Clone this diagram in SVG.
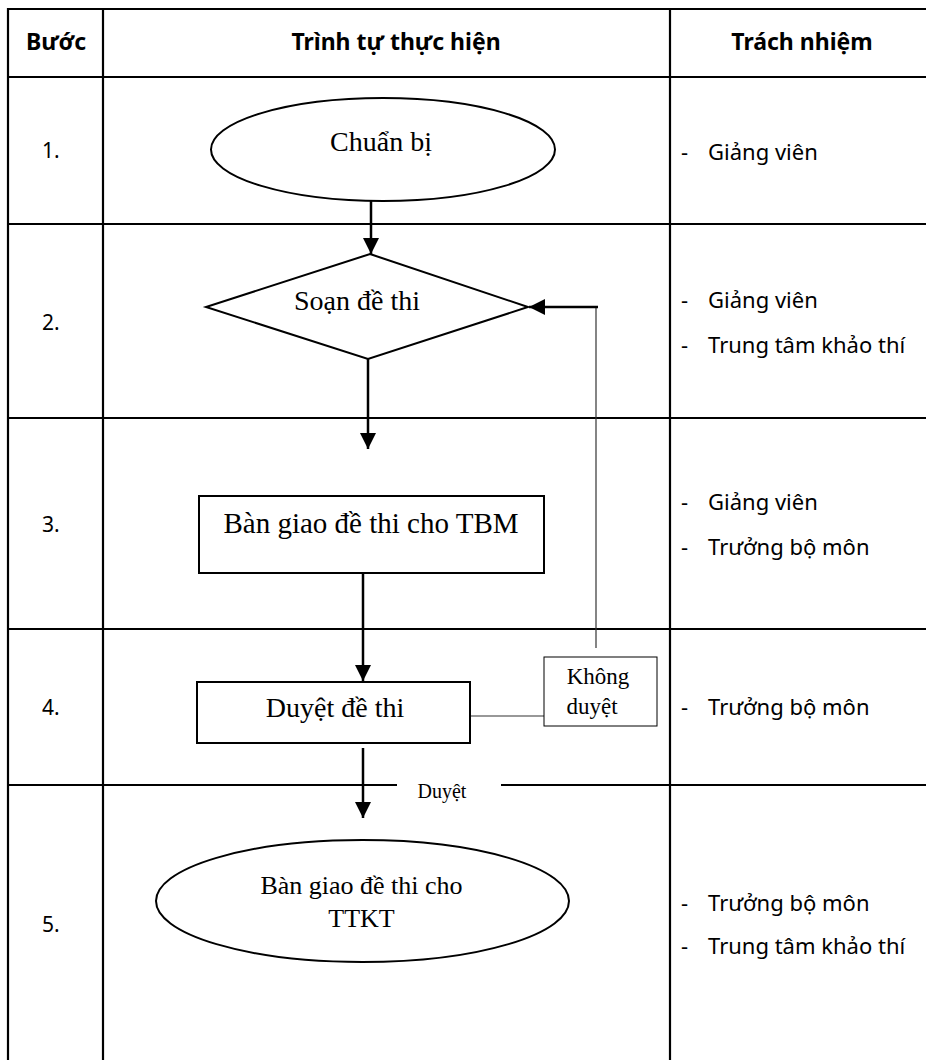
<svg xmlns="http://www.w3.org/2000/svg" width="926" height="1060" viewBox="0 0 926 1060">
<style>
.grid{stroke:#000;stroke-width:2.2;fill:none}
.shape{fill:#fff;stroke:#000;stroke-width:2}
.thin{fill:#fff;stroke:#000;stroke-width:1}
.flow{stroke:#000;stroke-width:2.5;fill:none}
.fb{stroke:#333;stroke-width:1.2;fill:none}
.hd{font-family:"Noto Sans","DejaVu Sans",sans-serif;font-weight:bold;font-size:23px;fill:#000;text-anchor:middle}
.tb{font-family:"Noto Sans","DejaVu Sans",sans-serif;font-size:22px;fill:#000}
.num{font-family:"Noto Sans","DejaVu Sans",sans-serif;font-size:21px;fill:#000}
.sr{font-family:"Liberation Serif","Times New Roman",serif;fill:#000;text-anchor:middle}
</style>
<defs>
<marker id="ah" markerUnits="userSpaceOnUse" viewBox="0 0 16 16" refX="16" refY="8" markerWidth="16" markerHeight="16" orient="auto">
<path d="M0,0 L16,8 L0,16 z" fill="#000"/>
</marker>
</defs>
<rect width="926" height="1060" fill="#fff"/>
<g id="table">
<line class="grid" x1="8" y1="9" x2="926" y2="9"/>
<line class="grid" x1="8" y1="77" x2="926" y2="77"/>
<line class="grid" x1="8" y1="224" x2="926" y2="224"/>
<line class="grid" x1="8" y1="418" x2="926" y2="418"/>
<line class="grid" x1="8" y1="629" x2="926" y2="629"/>
<line class="grid" x1="8" y1="785" x2="397" y2="785"/>
<line class="grid" x1="501" y1="785" x2="926" y2="785"/>
<line class="grid" x1="8" y1="8" x2="8" y2="1060"/>
<line class="grid" x1="103" y1="8" x2="103" y2="1060"/>
<line class="grid" x1="670" y1="8" x2="670" y2="1060"/>
<text class="hd" x="56" y="50">Bước</text>
<text class="hd" x="396" y="50">Trình tự thực hiện</text>
<text class="hd" x="802" y="50">Trách nhiệm</text>
<text class="num" x="42" y="158">1.</text>
<text class="num" x="42" y="330">2.</text>
<text class="num" x="42" y="532">3.</text>
<text class="num" x="42" y="715">4.</text>
<text class="num" x="42" y="932">5.</text>
<text class="tb" x="681" y="160">-</text><text class="tb" x="708" y="160">Giảng viên</text>
<text class="tb" x="681" y="308">-</text><text class="tb" x="708" y="308">Giảng viên</text>
<text class="tb" x="681" y="353">-</text><text class="tb" x="708" y="353">Trung tâm khảo thí</text>
<text class="tb" x="681" y="510">-</text><text class="tb" x="708" y="510">Giảng viên</text>
<text class="tb" x="681" y="555">-</text><text class="tb" x="708" y="555">Trưởng bộ môn</text>
<text class="tb" x="681" y="715">-</text><text class="tb" x="708" y="715">Trưởng bộ môn</text>
<text class="tb" x="681" y="911">-</text><text class="tb" x="708" y="911">Trưởng bộ môn</text>
<text class="tb" x="681" y="954">-</text><text class="tb" x="708" y="954">Trung tâm khảo thí</text>
</g>
<g id="connectors">
<line class="flow" x1="371" y1="201" x2="371" y2="254" marker-end="url(#ah)"/>
<line class="flow" x1="368" y1="359" x2="368" y2="449" marker-end="url(#ah)"/>
<line class="flow" x1="363" y1="573" x2="363" y2="681" marker-end="url(#ah)"/>
<line class="flow" x1="363" y1="748" x2="363" y2="818" marker-end="url(#ah)"/>
<line class="fb" x1="596" y1="648" x2="596" y2="307"/>
<line class="flow" x1="598" y1="307" x2="529" y2="307" marker-end="url(#ah)"/>
<line class="fb" x1="470" y1="716" x2="544" y2="716"/>
<text class="sr" x="442" y="798" font-size="20">Duyệt</text>
</g>
<g id="n1">
<ellipse class="shape" cx="383" cy="149.5" rx="172" ry="51.5"/>
<text class="sr" x="381" y="151" font-size="28">Chuẩn bị</text>
</g>
<g id="n2">
<polygon class="shape" points="370,254 528,307 368,359 206,307"/>
<text class="sr" x="357" y="310" font-size="28">Soạn đề thi</text>
</g>
<g id="n3">
<rect class="shape" x="199" y="496" width="345" height="77"/>
<text class="sr" x="371" y="533" font-size="29">Bàn giao đề thi cho TBM</text>
</g>
<g id="n4">
<rect class="shape" x="197" y="682" width="273" height="61"/>
<text class="sr" x="335" y="717" font-size="28">Duyệt đề thi</text>
</g>
<g id="n4b">
<rect class="thin" x="544" y="657" width="113" height="69"/>
<text class="sr" x="598" y="684" font-size="23">Không</text>
<text class="sr" x="592" y="714" font-size="23">duyệt</text>
</g>
<g id="n5">
<ellipse class="shape" cx="362.5" cy="901" rx="206.5" ry="61"/>
<text class="sr" x="361.5" y="894" font-size="26">Bàn giao đề thi cho</text>
<text class="sr" x="361.5" y="927" font-size="26">TTKT</text>
</g>
</svg>
